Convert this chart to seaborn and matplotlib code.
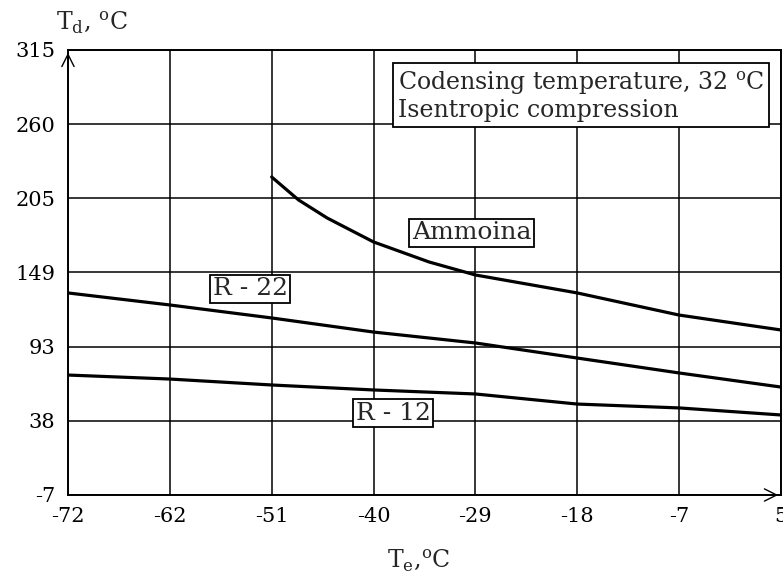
import numpy as np
import pandas as pd
import matplotlib
matplotlib.use("Agg")
import matplotlib.pyplot as plt
import seaborn as sns

# evaporating temperature Te (axis units) and discharge temperature Td
te_ammonia = [-50, -47.1, -44, -39, -33, -28, -17, -6, 5]
td_ammonia = [223.1, 206.5, 193.4, 176.1, 161.6, 152.2, 139.2, 123.2, 112.4]

te_r22 = [-72, -61, -50, -39, -28, -17, -6, 5]
td_r22 = [139.2, 130.5, 121.1, 110.9, 103.0, 92.1, 81.3, 71.1]

te_r12 = [-72, -61, -50, -39, -28, -17, -6, 5]
td_r12 = [79.8, 76.9, 72.6, 69.0, 66.1, 58.8, 56.0, 50.9]

x_ticks = [-72, -61, -50, -39, -28, -17, -6, 5]
x_tick_labels = ["-72", "-62", "-51", "-40", "-29", "-18", "-7", "5"]
y_ticks = [-7, 46.67, 100.33, 154, 207.67, 261.33, 315]
y_tick_labels = ["-7", "38", "93", "149", "205", "260", "315"]

df = pd.concat([
    pd.DataFrame({"Te": te_ammonia, "Td": td_ammonia, "gas": "Ammoina"}),
    pd.DataFrame({"Te": te_r22, "Td": td_r22, "gas": "R - 22"}),
    pd.DataFrame({"Te": te_r12, "Td": td_r12, "gas": "R - 12"}),
])

sns.set_style("white")
plt.rcParams["font.family"] = ["DejaVu Serif"]
plt.rcParams["mathtext.fontset"] = "dejavuserif"

fig = plt.figure(figsize=(7.83, 5.86), dpi=100)
ax = fig.add_axes([0.0868, 0.1553, 0.9106, 0.7594])

sns.lineplot(data=df, x="Te", y="Td", units="gas", estimator=None,
             color="black", linewidth=2.3, sort=False, ax=ax, legend=False)

ax.set_xlim(-72, 5)
ax.set_ylim(-7, 315)
ax.set_xticks(x_ticks)
ax.set_xticklabels(x_tick_labels)
ax.set_yticks(y_ticks)
ax.set_yticklabels(y_tick_labels)
ax.tick_params(length=0, labelsize=15, pad=9, colors="black")
ax.grid(True, color="black", linewidth=1.1)
for s in ax.spines.values():
    s.set_color("black")
    s.set_linewidth(1.4)
ax.set_xlabel("")
ax.set_ylabel("")

# axis arrows
ax.annotate("", xy=(0, 1), xytext=(0, 0.95), xycoords="axes fraction",
            arrowprops=dict(arrowstyle="->", lw=1.0, mutation_scale=22, color="black"))
ax.annotate("", xy=(1, 0), xytext=(0.97, 0), xycoords="axes fraction",
            arrowprops=dict(arrowstyle="->", lw=1.0, mutation_scale=22, color="black"))

# axis titles
fig.text(0.072, 0.963, r"T$_{\mathrm{d}}$, $^{\mathrm{o}}$C", fontsize=17, va="center", ha="left")
fig.text(0.494, 0.045, r"T$_{\mathrm{e}}$,$^{\mathrm{o}}$C", fontsize=17, va="center", ha="left")

box = dict(boxstyle="square,pad=0.1", facecolor="white", edgecolor="black", linewidth=1.3)
ax.text(-28.4, 182.6, "Ammoina", fontsize=18, ha="center", va="center", bbox=box)
ax.text(-52.3, 142.1, "R - 22", fontsize=18, ha="center", va="center", bbox=box)
ax.text(-36.9, 52.3, "R - 12", fontsize=18, ha="center", va="center", bbox=box)
ax.text(0.463, 0.955, "Codensing temperature, 32 $^{\\mathrm{o}}$C\nIsentropic compression",
        transform=ax.transAxes, fontsize=17, ha="left", va="top", linespacing=1.1,
        bbox=dict(boxstyle="square,pad=0.2", facecolor="white", edgecolor="black", linewidth=1.3))

plt.savefig("out.png", dpi=100)
plt.close()
